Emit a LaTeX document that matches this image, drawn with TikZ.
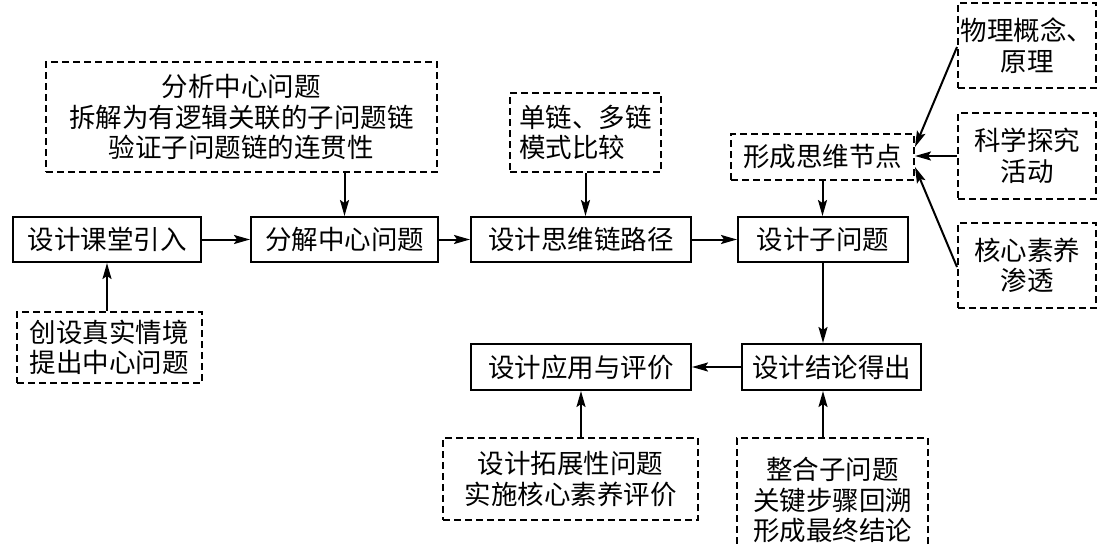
\documentclass[tikz,border=0pt]{standalone}
\usepackage{fontspec}
\setmainfont{Noto Sans CJK SC}
\usetikzlibrary{arrows.meta,calc}
\begin{document}
\begin{tikzpicture}[x=1pt,y=-1pt,
  base/.style={draw=black,line width=2pt,inner sep=0pt,align=center,
    font=\fontsize{26.5}{30.5}\selectfont},
  solidbox/.style={base},
  dashbox/.style={base,dash pattern=on 7pt off 4pt},
  arr/.style={line width=2pt,-{Stealth[length=16pt,width=9pt,inset=3pt]}}]
\useasboundingbox (0,0) rectangle (1101,546);
% main row
\node[solidbox,minimum width=188pt,minimum height=45pt] (intro) at (107,239.5) {设计课堂引入};
\node[solidbox,minimum width=187pt,minimum height=45pt] (decomp) at (344.5,239.5) {分解中心问题};
\node[solidbox,minimum width=220pt,minimum height=45pt] (path) at (581,239.5) {设计思维链路径};
\node[solidbox,minimum width=170pt,minimum height=45pt] (sub) at (823,239.5) {设计子问题};
\node[solidbox,minimum width=179pt,minimum height=46pt] (concl) at (831.5,367) {设计结论得出};
\node[solidbox,minimum width=220pt,minimum height=46pt] (apply) at (581,367) {设计应用与评价};
% dashed boxes
\node[dashbox,minimum width=391pt,minimum height=110pt] (analysis) at (241.5,117)
  {分析中心问题\\拆解为有逻辑关联的子问题链\\验证子问题链的连贯性};
\node[dashbox,minimum width=185pt,minimum height=71pt] (create) at (109.5,347.5)
  {创设真实情境\\提出中心问题};
\node[dashbox,minimum width=151pt,minimum height=79pt,align=left] (chain) at (585.5,132.5)
  {单链、多链\\模式比较};
\node[dashbox,minimum width=183pt,minimum height=46pt] (think) at (822.5,157) {形成思维节点};
\node[dashbox,minimum width=138pt,minimum height=85pt] (phys) at (1027,45.5) {物理概念、\\原理};
\node[dashbox,minimum width=138pt,minimum height=86pt] (sci) at (1027,156) {科学探究\\活动};
\node[dashbox,minimum width=138pt,minimum height=85pt] (core) at (1027,265.5) {核心素养\\渗透};
\node[dashbox,minimum width=255pt,minimum height=82pt] (ext) at (570.5,479)
  {设计拓展性问题\\实施核心素养评价};
\node[dashbox,minimum width=191pt,minimum height=124pt] (integ) at (832.5,500)
  {整合子问题\\关键步骤回溯\\形成最终结论};
% connectors
\draw[arr] (intro.east) -- (decomp.west);
\draw[arr] (decomp.east) -- (path.west);
\draw[arr] (path.east) -- (sub.west);
\draw[arr] (analysis.south -| decomp.north) -- (decomp.north);
\draw[arr] (create.north -| intro.south) -- (intro.south);
\draw[arr] (chain.south) -- (chain.south |- path.north);
\draw[arr] (think.south) -- (think.south |- sub.north);
\draw[arr] (sub.south) -- (sub.south |- concl.north);
\draw[arr] (concl.west) -- (apply.east);
\draw[arr] (apply.south |- ext.north) -- (apply.south);
\draw[arr] (integ.north -| sub.south) -- (sub.south |- concl.south);
\draw[arr] ([yshift=-1.5pt]phys.west) -- ([yshift=10pt]think.east);
\draw[arr] (sci.west) -- (sci.west -| think.east);
\draw[arr] ([yshift=-1.5pt]core.west) -- ([yshift=-10pt]think.east);
\end{tikzpicture}
\end{document}
